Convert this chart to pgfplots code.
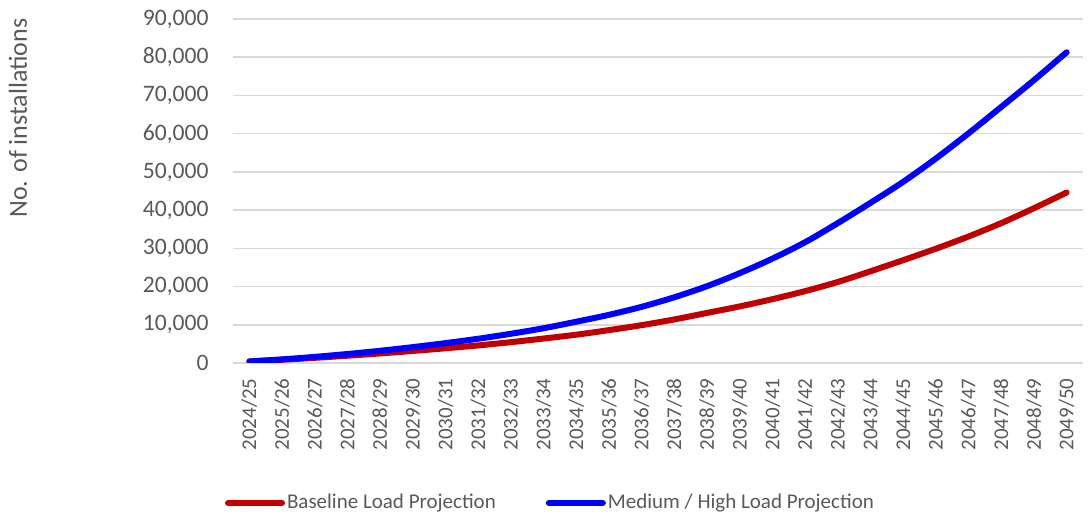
\documentclass[border=0pt]{standalone}
\usepackage{fontspec}
\setmainfont{Carlito}
\usepackage{pgfplots}
\pgfplotsset{compat=1.18}
\definecolor{gridgray}{HTML}{D9D9D9}
\definecolor{textgray}{HTML}{595959}
\definecolor{baseRed}{HTML}{C00000}
\definecolor{medBlue}{HTML}{0000FF}

\begin{document}
\begin{tikzpicture}
\useasboundingbox (-116.5pt,-78pt) rectangle (428pt,181.5pt);
\begin{axis}[
  scale only axis,
  width=425pt, height=172pt,
  xmin=-0.5, xmax=25.5,
  ymin=0, ymax=90000,
  axis line style={draw=none},
  tick style={draw=none},
  ymajorgrids,
  grid style={gridgray, line width=0.75pt},
  ytick={0,10000,...,90000},
  scaled y ticks=false,
  /pgf/number format/fixed,
  /pgf/number format/1000 sep={,},
  /pgf/number format/assume math mode=true,
  yticklabel style={font=\fontsize{11.8}{14}\selectfont, text=textgray, inner sep=0pt, anchor=east},
  yticklabel shift=12pt,
  xtick={0,...,25},
  xticklabels={2024/25,2025/26,2026/27,2027/28,2028/29,2029/30,2030/31,2031/32,2032/33,2033/34,2034/35,2035/36,2036/37,2037/38,2038/39,2039/40,2040/41,2041/42,2042/43,2043/44,2044/45,2045/46,2046/47,2047/48,2048/49,2049/50},
  xticklabel style={font=\fontsize{10.5}{12}\selectfont, text=textgray, rotate=90, anchor=east, inner sep=0pt},
  xticklabel shift=7.5pt,
  ylabel={No. of installations},
  ylabel style={at={(axis description cs:-0.253,0.712)}, anchor=center, font=\fontsize{13}{15}\selectfont, text=textgray},
  legend columns=2,
  legend style={at={(axis description cs:0.3735,-0.407)}, anchor=center, draw=none, fill=none,
    font=\fontsize{10.5}{12}\selectfont, text=textgray, inner sep=0pt,
    nodes={inner sep=1pt},
    /tikz/every even column/.append style={column sep=24pt}},
  legend image code/.code={\draw[#1, line cap=round] (0pt,0pt) -- (27pt,0pt);},
]
% Baseline load projection
\addplot[baseRed, line width=3pt, smooth, line cap=round, line join=round] coordinates {
  (0,400) (1,850) (2,1350) (3,1900) (4,2500) (5,3150) (6,3850) (7,4600) (8,5450) (9,6400)
  (10,7400) (11,8600) (12,9900) (13,11400) (14,13100) (15,14800) (16,16700) (17,18800)
  (18,21200) (19,24000) (20,26900) (21,29900) (22,33100) (23,36600) (24,40500) (25,44600)
};
\addlegendentry{Baseline Load Projection}
% Medium / high load projection
\addplot[medBlue, line width=3pt, smooth, line cap=round, line join=round] coordinates {
  (0,400) (1,950) (2,1600) (3,2350) (4,3200) (5,4150) (6,5200) (7,6350) (8,7650) (9,9100)
  (10,10800) (11,12600) (12,14700) (13,17200) (14,20100) (15,23500) (16,27300) (17,31600)
  (18,36600) (19,41900) (20,47400) (21,53500) (22,60100) (23,67000) (24,74000) (25,81300)
};
\addlegendentry{Medium / High Load Projection}
\end{axis}
\end{tikzpicture}
\end{document}
